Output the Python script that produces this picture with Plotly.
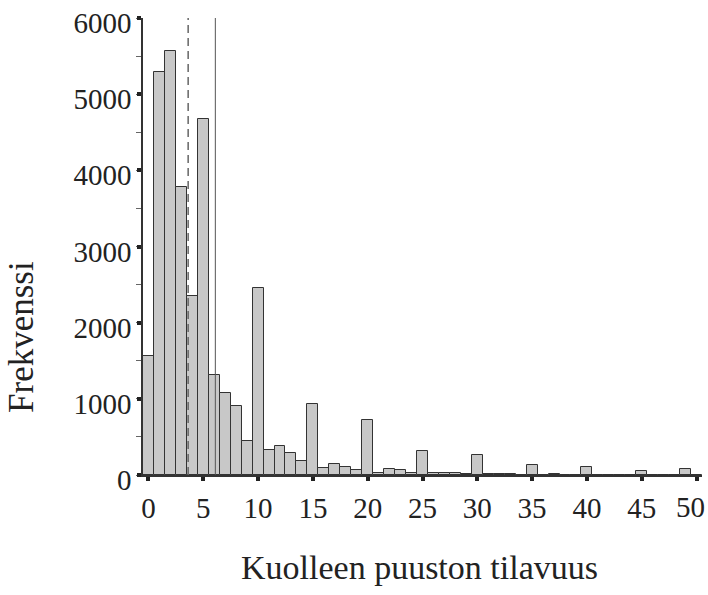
import plotly.graph_objects as go

# Data
bins = list(range(0, 51))
freq = [1566, 5289, 5562, 3780, 2351, 4675, 1316, 1075, 908, 443,
        2456, 333, 377, 289, 184, 930, 96, 140, 100, 61,
        719, 31, 75, 61, 31, 311, 31, 31, 31, 9,
        268, 10, 10, 10, 3, 131, 0, 15, 0, 0,
        110, 0, 0, 0, 0, 49, 0, 0, 0, 75, 0]
median_x = 3.62
mean_x = 6.1
x_ticks = [0, 5, 10, 15, 20, 25, 30, 35, 40, 45, 50]
y_ticks = [0, 1000, 2000, 3000, 4000, 5000, 6000]
x_title = "Kuolleen puuston tilavuus"
y_title = "Frekvenssi"

FONT = "Liberation Serif"

# the last x label sits against the right edge, so it is drawn as a right-anchored annotation
x_ticklabels = [str(v) for v in x_ticks[:-1]] + [""]

fig = go.Figure()
fig.add_trace(go.Bar(
    x=bins, y=freq, width=1,
    marker=dict(color="#c8c8c8", line=dict(color="#333333", width=1)),
    showlegend=False, hoverinfo="x+y",
))
fig.add_trace(go.Scatter(
    x=[median_x, median_x], y=[0, 6000], mode="lines",
    line=dict(color="#666666", width=1.5, dash="8px,5px"), showlegend=False,
))
fig.add_trace(go.Scatter(
    x=[mean_x, mean_x], y=[0, 6000], mode="lines",
    line=dict(color="#555555", width=1), showlegend=False,
))

fig.update_layout(
    width=708, height=595,
    margin=dict(l=143, r=6, t=18, b=120, autoexpand=False),
    paper_bgcolor="white", plot_bgcolor="white",
    bargap=0,
    font=dict(family=FONT, size=29, color="#222222"),
    xaxis=dict(
        range=[-0.5, 50.5], tickvals=x_ticks, ticktext=x_ticklabels,
        showgrid=False, zeroline=False, showline=True, linecolor="#333333", linewidth=1.5,
        ticks="outside", ticklen=4, tickwidth=4, tickcolor="#222222",
        tickfont=dict(family=FONT, size=29, color="#222222"),
        ticklabelstandoff=2, ticklabeloverflow="allow", automargin=False,
    ),
    yaxis=dict(
        range=[0, 6000], tickvals=y_ticks, ticktext=[str(v) for v in y_ticks],
        showgrid=False, zeroline=False, showline=True, linecolor="#333333", linewidth=1.5,
        ticks="outside", ticklen=4, tickwidth=4, tickcolor="#222222",
        minor=dict(dtick=500, ticks="outside", ticklen=5, tickwidth=1, tickcolor="#666666"),
        tickfont=dict(family=FONT, size=29, color="#222222"),
        ticklabelstandoff=0, ticklabelshift=5, ticklabeloverflow="allow", automargin=False,
    ),
    annotations=[
        dict(text=str(x_ticks[-1]), xref="x", yref="y", x=x_ticks[-1], y=0,
             xanchor="right", yanchor="top", xshift=9, yshift=-15, showarrow=False,
             borderpad=0, font=dict(family=FONT, size=29, color="#222222")),
        dict(text=x_title, xref="paper", yref="paper", x=0.4955, y=-0.2035,
             xanchor="center", yanchor="middle", showarrow=False,
             font=dict(family=FONT, size=34, color="#222222")),
        dict(text=y_title, xref="paper", yref="paper", x=-0.2165, y=0.302,
             xanchor="center", yanchor="middle", showarrow=False, textangle=-90,
             font=dict(family=FONT, size=35, color="#222222")),
    ],
)

fig.write_html("out.html", config={"displayModeBar": False},
               post_script="document.body.style.margin='0';")
